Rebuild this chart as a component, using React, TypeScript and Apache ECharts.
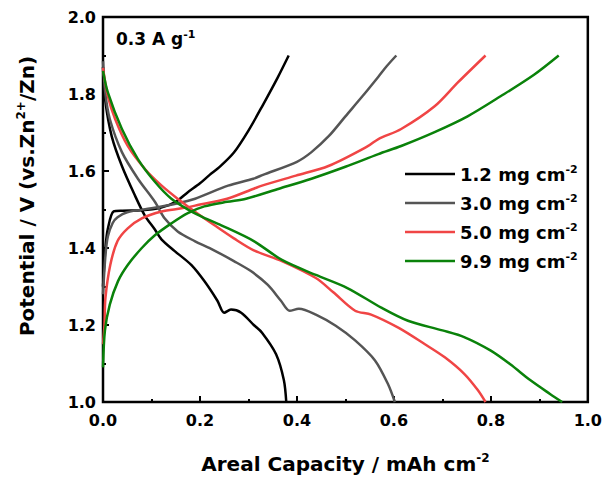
import React, { useEffect, useRef } from "react";
import * as echarts from "echarts";

// Areal capacity (mAh cm-2), potential (V)
const blackCharge: number[][] = [
  [0, 1.3], [0.005, 1.4], [0.01, 1.45], [0.022, 1.495], [0.04, 1.497], [0.08, 1.498],
  [0.12, 1.505], [0.15, 1.52], [0.175, 1.545], [0.2, 1.568], [0.22, 1.59], [0.24, 1.61],
  [0.27, 1.648], [0.3, 1.705], [0.33, 1.772], [0.36, 1.842], [0.383, 1.9],
];
const blackDischarge: number[][] = [
  [0, 1.87], [0.005, 1.78], [0.018, 1.69], [0.039, 1.613], [0.066, 1.536], [0.086, 1.485],
  [0.107, 1.448], [0.121, 1.422], [0.148, 1.392], [0.182, 1.356], [0.209, 1.314],
  [0.236, 1.263], [0.25, 1.232], [0.264, 1.24], [0.285, 1.232], [0.311, 1.2],
  [0.328, 1.18], [0.357, 1.124], [0.373, 1.057], [0.378, 1.0],
];
const grayCharge: number[][] = [
  [0, 1.28], [0.005, 1.38], [0.01, 1.43], [0.02, 1.465], [0.03, 1.48], [0.05, 1.493],
  [0.1, 1.503], [0.15, 1.515], [0.19, 1.528], [0.258, 1.562], [0.31, 1.58], [0.33, 1.59],
  [0.4, 1.624], [0.43, 1.649], [0.466, 1.691], [0.5, 1.742], [0.535, 1.794],
  [0.568, 1.845], [0.585, 1.872], [0.605, 1.9],
];
const grayDischarge: number[][] = [
  [0, 1.885], [0.005, 1.8], [0.014, 1.735], [0.039, 1.649], [0.072, 1.58], [0.107, 1.52],
  [0.127, 1.477], [0.154, 1.443], [0.189, 1.418], [0.223, 1.398], [0.27, 1.366],
  [0.305, 1.34], [0.34, 1.304], [0.367, 1.263], [0.385, 1.237], [0.404, 1.242],
  [0.439, 1.227], [0.48, 1.198], [0.52, 1.16], [0.561, 1.108], [0.588, 1.046], [0.602, 1.0],
];
const redCharge: number[][] = [
  [0, 1.15], [0.003, 1.2], [0.005, 1.27], [0.015, 1.356], [0.03, 1.418], [0.051, 1.451],
  [0.08, 1.477], [0.121, 1.495], [0.162, 1.503], [0.19, 1.51], [0.256, 1.528],
  [0.311, 1.554], [0.328, 1.562], [0.398, 1.588], [0.465, 1.613], [0.547, 1.665],
  [0.568, 1.683], [0.615, 1.709], [0.684, 1.768], [0.732, 1.83], [0.789, 1.9],
];
const redDischarge: number[][] = [
  [0, 1.868], [0.01, 1.794], [0.025, 1.735], [0.051, 1.665], [0.086, 1.606],
  [0.121, 1.562], [0.154, 1.528], [0.189, 1.495], [0.23, 1.459], [0.27, 1.425],
  [0.311, 1.394], [0.369, 1.366], [0.439, 1.322], [0.475, 1.285], [0.52, 1.237],
  [0.553, 1.227], [0.609, 1.193], [0.664, 1.15], [0.705, 1.116], [0.746, 1.072],
  [0.773, 1.031], [0.789, 1.0],
];
const greenCharge: number[][] = [
  [0, 1.09], [0.004, 1.186], [0.014, 1.253], [0.031, 1.314], [0.051, 1.356], [0.08, 1.4],
  [0.107, 1.433], [0.141, 1.464], [0.174, 1.49], [0.209, 1.508], [0.256, 1.52],
  [0.295, 1.528], [0.363, 1.554], [0.43, 1.58], [0.5, 1.611], [0.568, 1.644],
  [0.615, 1.665], [0.684, 1.701], [0.752, 1.742], [0.82, 1.794], [0.889, 1.85], [0.94, 1.9],
];
const greenDischarge: number[][] = [
  [0, 1.86], [0.01, 1.804], [0.039, 1.709], [0.072, 1.631], [0.107, 1.572],
  [0.141, 1.528], [0.182, 1.495], [0.211, 1.477], [0.244, 1.459], [0.311, 1.418],
  [0.369, 1.369], [0.439, 1.33], [0.504, 1.296], [0.574, 1.245], [0.629, 1.211],
  [0.7, 1.186], [0.746, 1.168], [0.799, 1.134], [0.84, 1.098], [0.881, 1.057],
  [0.922, 1.021], [0.947, 1.0],
];

const loadings = ["1.2 mg cm-2", "3.0 mg cm-2", "5.0 mg cm-2", "9.9 mg cm-2"];
const colors = ["#000000", "#555555", "#F04545", "#0A820A"];
const curves = [
  [blackCharge, blackDischarge],
  [grayCharge, grayDischarge],
  [redCharge, redDischarge],
  [greenCharge, greenDischarge],
];

const FONT = "DejaVu Sans";

export default function App() {
  const ref = useRef<HTMLDivElement>(null);
  useEffect(() => {
    if (!ref.current) return;
    const chart = echarts.init(ref.current, null, { renderer: "svg" });
    const series: any[] = [];
    curves.forEach((pair, i) => {
      pair.forEach((d) => {
        series.push({
          type: "line",
          name: loadings[i],
          data: d,
          symbol: "none",
          smooth: 0.3,
          lineStyle: { color: colors[i], width: 2.5 },
          itemStyle: { color: colors[i] },
          emphasis: { disabled: true },
        });
      });
    });
    const supRich = {
      t: { fontFamily: FONT, fontWeight: "bold", fontSize: 20, color: "#000", lineHeight: 24 },
      s: { fontFamily: FONT, fontWeight: "bold", fontSize: 12, color: "#000", lineHeight: 12, verticalAlign: "top" },
    };
    chart.setOption({
      animation: false,
      grid: {
        left: 103, right: 14, top: 17, bottom: 74,
        show: true, borderColor: "#000", borderWidth: 2.5, backgroundColor: "transparent",
      },
      xAxis: {
        type: "value", min: 0, max: 1, interval: 0.2,
        axisLine: { show: false },
        axisTick: { show: true, inside: true, length: 6, lineStyle: { color: "#000", width: 2 } },
        minorTick: { show: true, splitNumber: 2, length: 3, lineStyle: { color: "#000", width: 2 } },
        splitLine: { show: false },
        axisLabel: {
          formatter: (v: number) => v.toFixed(1), color: "#000", fontFamily: FONT,
          fontWeight: "bold", fontSize: 16, margin: 10,
        },
        name: "{t|Areal Capacity / mAh cm}{s|-2}",
        nameLocation: "middle", nameGap: 50,
        nameTextStyle: { rich: supRich },
      },
      yAxis: {
        type: "value", min: 1, max: 2, interval: 0.2,
        axisLine: { show: false },
        axisTick: { show: true, inside: true, length: 6, lineStyle: { color: "#000", width: 2 } },
        minorTick: { show: true, splitNumber: 2, length: 3, lineStyle: { color: "#000", width: 2 } },
        splitLine: { show: false },
        axisLabel: {
          formatter: (v: number) => v.toFixed(1), color: "#000", fontFamily: FONT,
          fontWeight: "bold", fontSize: 16, margin: 7,
        },
      },
      legend: {
        orient: "vertical", left: 400, top: 159, itemWidth: 50, itemHeight: 14, itemGap: 10,
        icon: "path://M0,0 L50,0 L50,2.5 L0,2.5 Z",
        data: loadings,
        formatter: (name: string) => `{t|${name.slice(0, -2)}}{s|-2}`,
        textStyle: {
          rich: {
            t: { fontFamily: FONT, fontWeight: "bold", fontSize: 18, color: "#000", lineHeight: 20 },
            s: { fontFamily: FONT, fontWeight: "bold", fontSize: 11, color: "#000", lineHeight: 11, verticalAlign: "top" },
          },
        },
      },
      graphic: [
        {
          type: "text", x: 27, y: 196, rotation: Math.PI / 2,
          style: {
            text: "{t|Potential / V (vs.Zn}{s|2+}{t|/Zn)}",
            rich: supRich, align: "center", verticalAlign: "middle",
          },
        },
        {
          type: "text", x: 116, y: 29,
          style: {
            text: "{t|0.3 A g}{s|-1}",
            rich: {
              t: { fontFamily: FONT, fontWeight: "bold", fontSize: 17, color: "#000", lineHeight: 20 },
              s: { fontFamily: FONT, fontWeight: "bold", fontSize: 11, color: "#000", lineHeight: 11, verticalAlign: "top" },
            },
          },
        },
      ],
      series,
    });
    return () => chart.dispose();
  }, []);
  return <div ref={ref} style={{ width: 605, height: 479, position: "absolute", left: 0, top: 0 }} />;
}
